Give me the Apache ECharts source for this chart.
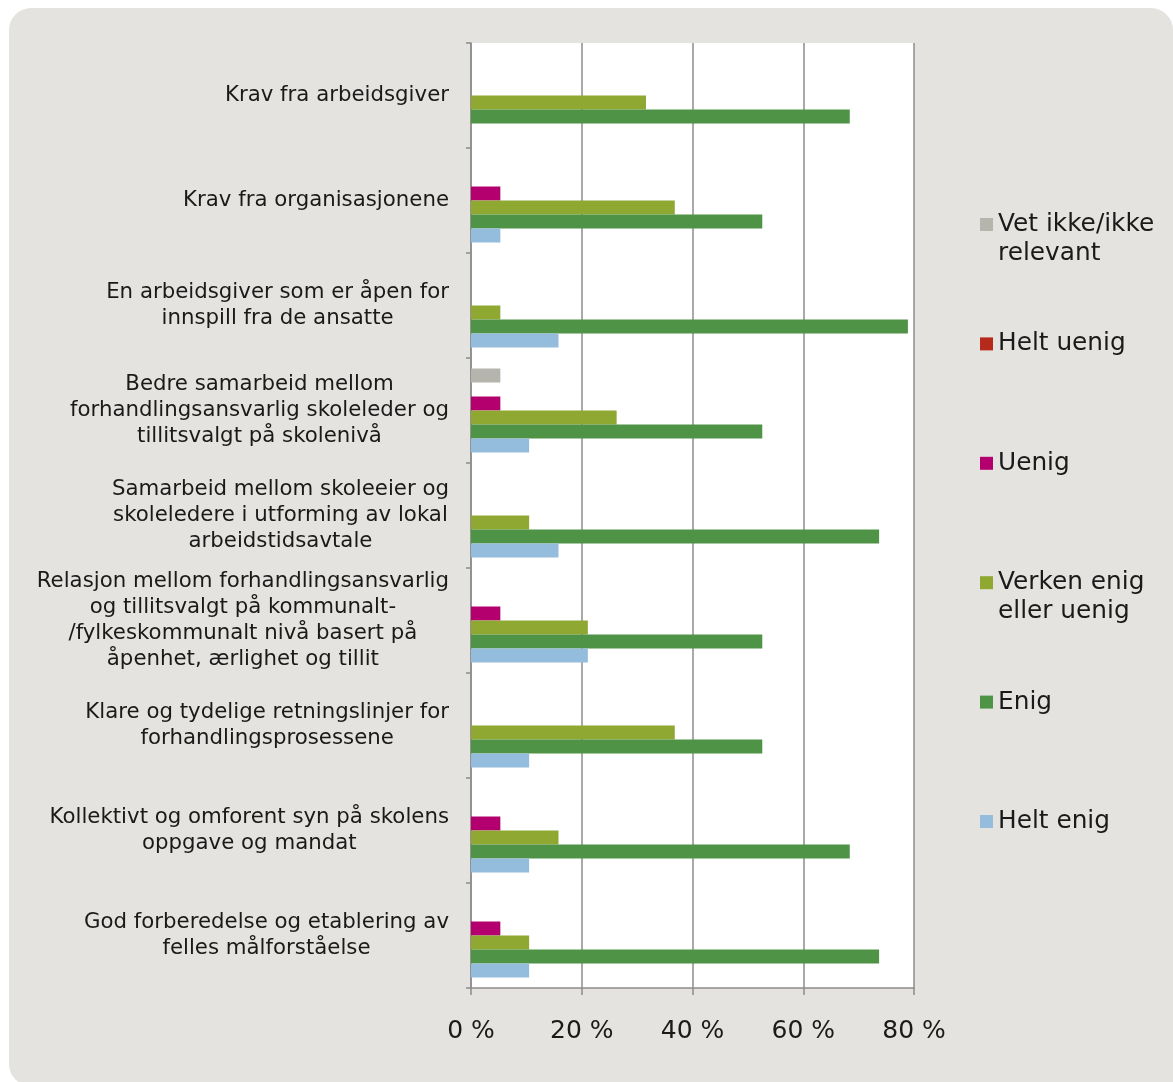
<!DOCTYPE html>
<html>
<head>
<meta charset="utf-8">
<script src="https://cdn.jsdelivr.net/npm/echarts@6/dist/echarts.min.js"></script>
<style>
  html, body { margin: 0; padding: 0; background: #ffffff; }
  #panel {
    position: absolute; left: 9px; top: 8px; width: 1164px; height: 1078px;
    background: #e4e3df; border-radius: 22px 22px 0 22px;
  }
  #chart { position: absolute; left: 0; top: 0; width: 1173px; height: 1082px; }
</style>
</head>
<body>
<div id="panel"></div>
<div id="chart"></div>
<script>
// Statements, listed top to bottom
const categories = [
  'Krav fra arbeidsgiver',
  'Krav fra organisasjonene',
  'En arbeidsgiver som er åpen for\ninnspill fra de ansatte',
  'Bedre samarbeid mellom\nforhandlingsansvarlig skoleleder og\ntillitsvalgt på skolenivå',
  'Samarbeid mellom skoleeier og\nskoleledere i utforming av lokal\narbeidstidsavtale',
  'Relasjon mellom forhandlingsansvarlig\nog tillitsvalgt på kommunalt-\n/fylkeskommunalt nivå basert på\nåpenhet, ærlighet og tillit',
  'Klare og tydelige retningslinjer for\nforhandlingsprosessene',
  'Kollektivt og omforent syn på skolens\noppgave og mandat',
  'God forberedelse og etablering av\nfelles målforståelse'
];

// Answer options (legend order)
const seriesNames = ['Vet ikke/ikke relevant', 'Helt uenig', 'Uenig', 'Verken enig eller uenig', 'Enig', 'Helt enig'];
const legendLines = {
  'Vet ikke/ikke relevant': ['Vet ikke/ikke', 'relevant'],
  'Helt uenig': ['Helt uenig', ''],
  'Uenig': ['Uenig', ''],
  'Verken enig eller uenig': ['Verken enig', 'eller uenig'],
  'Enig': ['Enig', ''],
  'Helt enig': ['Helt enig', '']
};
const seriesColors = ['#b6b5ad', '#b52a1a', '#b3006e', '#8ea832', '#4f9346', '#94bcdc'];

// Share of respondents (%), one value per statement; null = no answers
const vetIkke    = [null, null, null, 5.3, null, null, null, null, null];
const heltUenig  = [null, null, null, null, null, null, null, null, null];
const uenig      = [null, 5.3, null, 5.3, null, 5.3, null, 5.3, 5.3];
const verken     = [31.6, 36.8, 5.3, 26.3, 10.5, 21.1, 36.8, 15.8, 10.5];
const enig       = [68.4, 52.6, 78.9, 52.6, 73.7, 52.6, 52.6, 68.4, 73.7];
const heltEnig   = [null, 5.3, 15.8, 10.5, 15.8, 21.1, 10.5, 10.5, 10.5];
const seriesData = [vetIkke, heltUenig, uenig, verken, enig, heltEnig];

// Value axis ticks
const xTicks = [0, 20, 40, 60, 80];

const FONT = '"DejaVu Sans", Verdana, sans-serif';
const chart = echarts.init(document.getElementById('chart'), null, { renderer: 'canvas' });

chart.setOption({
  animation: false,
  backgroundColor: 'transparent',
  textStyle: { fontFamily: FONT, color: '#1a1a1a' },
  grid: {
    left: 471, right: 259, top: 43, bottom: 94,
    show: true, backgroundColor: '#ffffff', borderWidth: 0
  },
  legend: {
    orient: 'vertical',
    left: 980, top: 181,
    padding: 0,
    itemWidth: 13, itemHeight: 13, itemGap: 32.4,
    icon: 'rect',
    data: seriesNames,
    formatter: function (name) {
      const l = legendLines[name];
      return '\n' + l[0] + '\n' + l[1];
    },
    textStyle: { fontFamily: FONT, fontSize: 24.8, lineHeight: 29, color: '#1a1a1a' }
  },
  xAxis: {
    type: 'value',
    min: xTicks[0], max: xTicks[xTicks.length - 1], interval: 20,
    axisLine: { show: true, lineStyle: { color: '#8c8c8c', width: 1.5 } },
    axisTick: { show: true, length: 7, lineStyle: { color: '#8c8c8c', width: 1.5 } },
    splitLine: { show: true, lineStyle: { color: '#8c8c8c', width: 1.5 } },
    axisLabel: {
      margin: 31, fontSize: 25, fontFamily: FONT, color: '#1a1a1a',
      formatter: '{value} %'
    }
  },
  yAxis: {
    type: 'category',
    inverse: true,
    data: categories,
    axisLine: { show: true, lineStyle: { color: '#8c8c8c', width: 1.5 } },
    axisTick: { show: true, length: 5, alignWithLabel: false, lineStyle: { color: '#8c8c8c', width: 1.5 } },
    splitLine: { show: false },
    axisLabel: {
      margin: 22,
      interval: 0,
      formatter: function (v) {
        return v.split('\n').map(function (s) { return '{c|' + s + '}'; }).join('\n');
      },
      rich: {
        c: { align: 'center', fontSize: 21.3, lineHeight: 26.3, fontFamily: FONT, color: '#1a1a1a' }
      }
    }
  },
  series: seriesNames.map(function (name, i) {
    return {
      name: name,
      type: 'bar',
      data: seriesData[i],
      barGap: '0%',
      barCategoryGap: '20%',
      itemStyle: { color: seriesColors[i] }
    };
  })
});
</script>
</body>
</html>
